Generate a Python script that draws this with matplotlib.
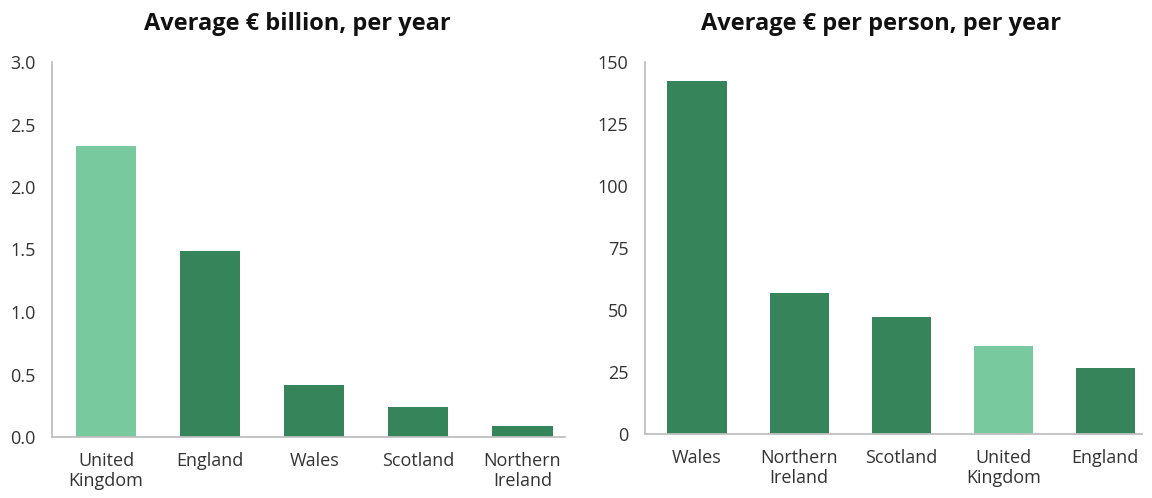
import numpy as np
import matplotlib.pyplot as plt

plt.rcParams['font.family'] = ['Open Sans', 'DejaVu Sans']

# painel esquerdo: bilhoes de euros por ano
cat_bil = ["United\nKingdom", "England", "Wales", "Scotland", "Northern\nIreland"]
val_bil = [2.33, 1.49, 0.42, 0.24, 0.09]

# painel direito: euros por pessoa por ano
cat_pes = ["Wales", "Northern\nIreland", "Scotland", "United\nKingdom", "England"]
val_pes = [142.3, 56.9, 47.2, 35.5, 26.6]

escuro = "#35845A"
claro = "#79C99E"
cinza = "#BFBFBF"
texto = "#333333"

fig = plt.figure(figsize=(11.52, 4.98), dpi=100)

ax1 = fig.add_axes([52/1152, 1 - 437/498, (565 - 52)/1152, (437 - 62)/498])
ax2 = fig.add_axes([645/1152, 1 - 434/498, (1142 - 645)/1152, (434 - 62)/498])


def painel(ax, cats, vals, titulo, yticks, fmt, xlim, xtit):
    cores = [claro if "United" in c else escuro for c in cats]
    x = np.arange(len(cats))
    ax.bar(x, vals, width=0.58, color=cores)
    ax.set_xticks(x)
    ax.set_xticklabels(cats, fontsize=13, color=texto, linespacing=1.1)
    ax.set_yticks(yticks)
    ax.set_yticklabels([fmt.format(v) for v in yticks], fontsize=13, color=texto)
    ax.set_ylim(yticks[0], yticks[-1])
    ax.set_xlim(*xlim)
    for s in ["top", "right"]:
        ax.spines[s].set_visible(False)
    for s in ["left", "bottom"]:
        ax.spines[s].set_color(cinza)
        ax.spines[s].set_linewidth(1.3)
    ax.tick_params(axis="both", length=0)
    ax.tick_params(axis="y", pad=12)
    ax.tick_params(axis="x", pad=11)
    ax.set_title(titulo, fontsize=17, fontweight="bold", color="#111111", pad=23, x=xtit)


painel(ax1, cat_bil, val_bil, "Average € billion, per year",
       [0, 0.5, 1.0, 1.5, 2.0, 2.5, 3.0], "{:.1f}", (-0.52, 4.41), 0.478)
painel(ax2, cat_pes, val_pes, "Average € per person, per year",
       [0, 25, 50, 75, 100, 125, 150], "{:d}", (-0.51, 4.36), 0.475)

fig.savefig("out.png", dpi=100)
